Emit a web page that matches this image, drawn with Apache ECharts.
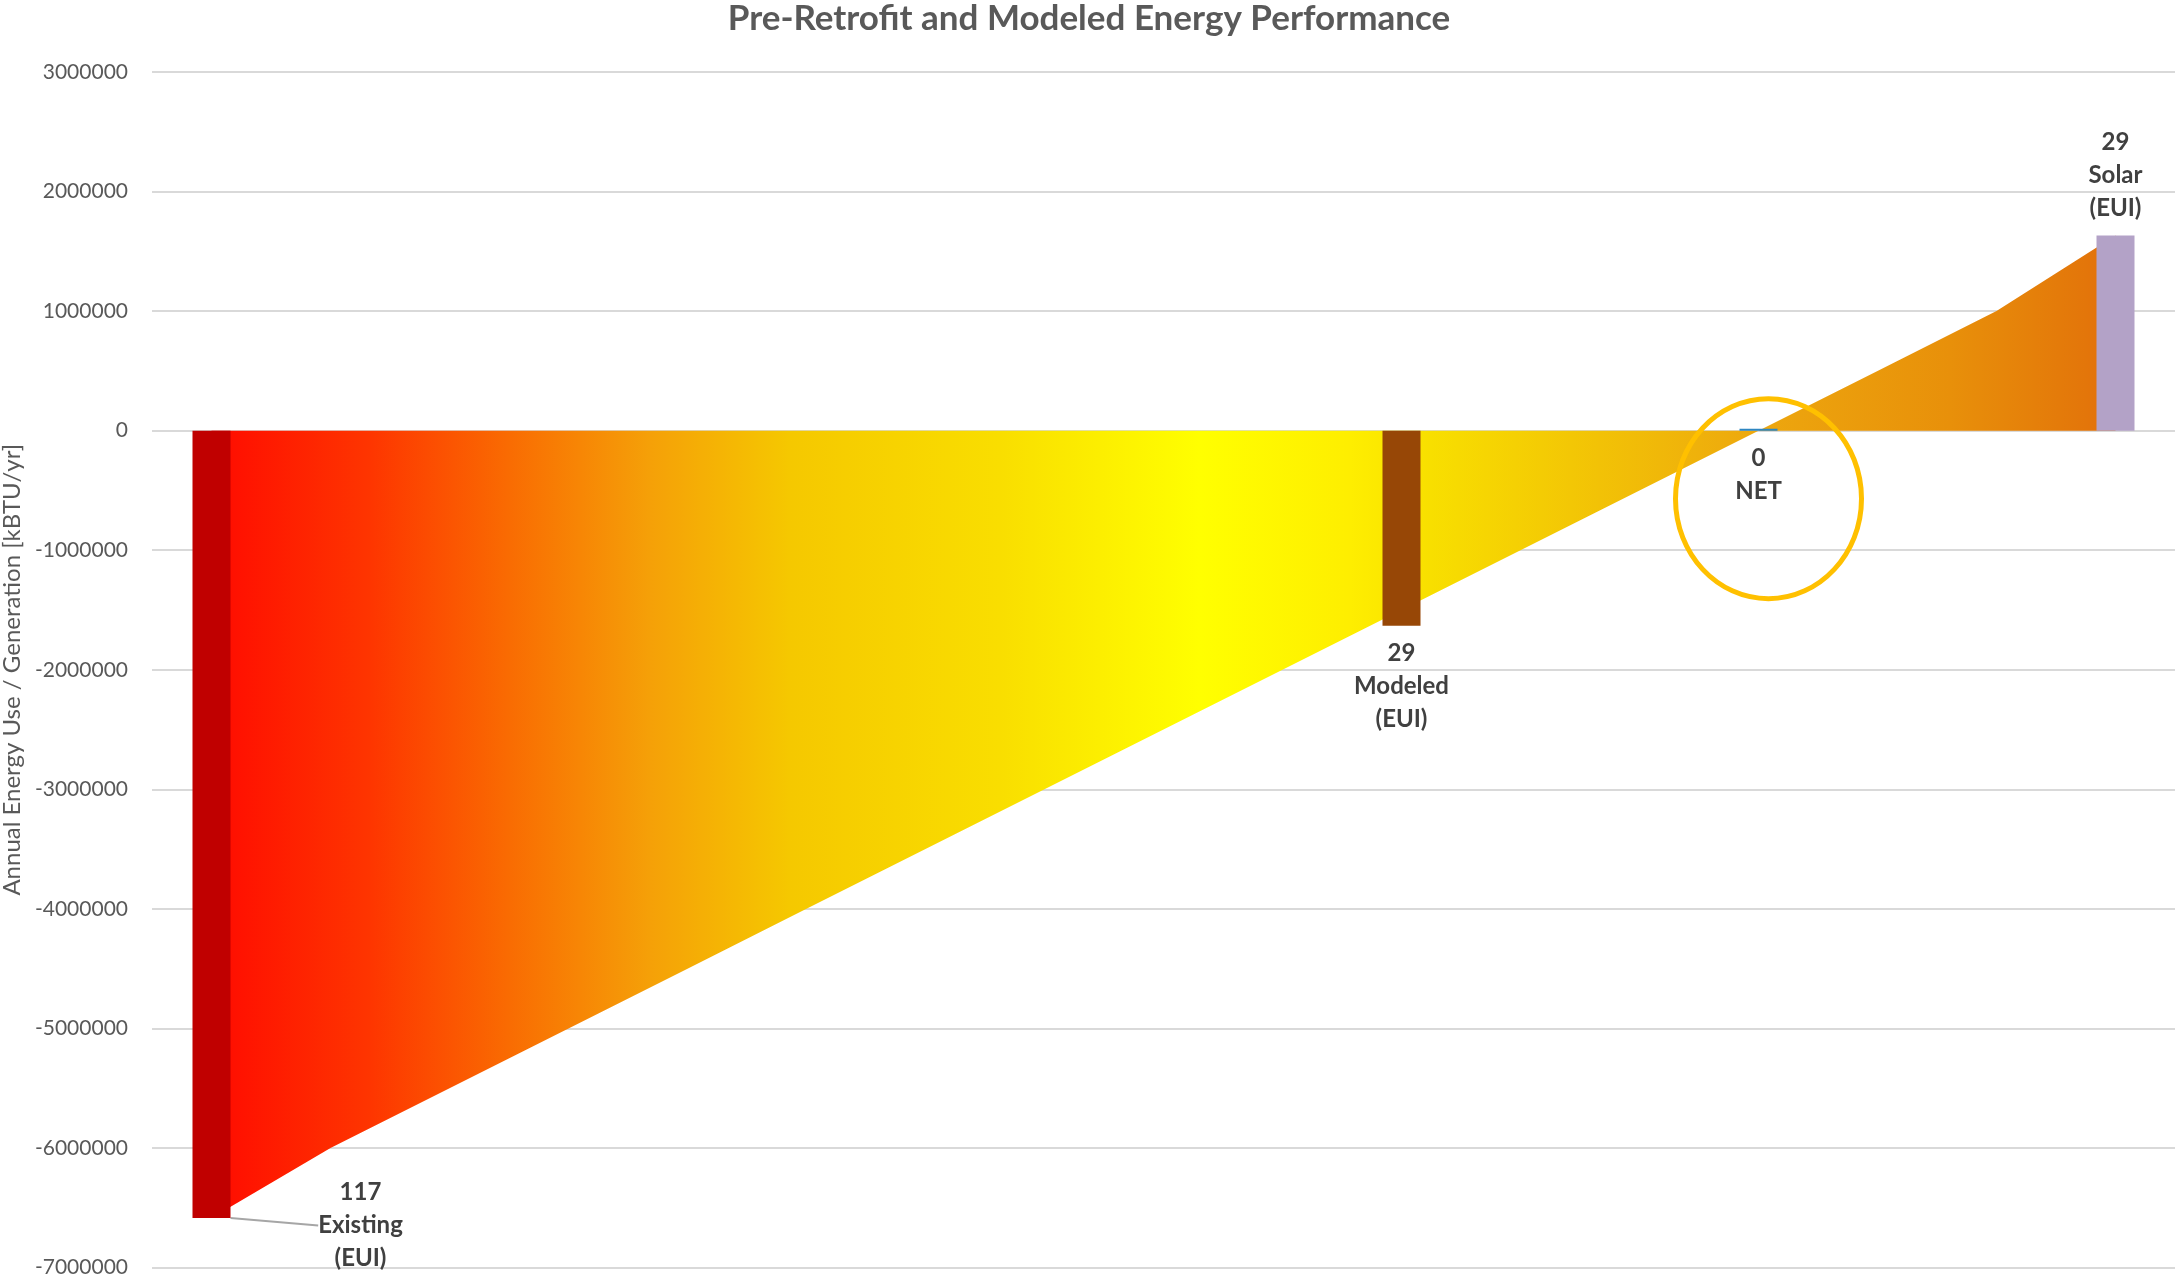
<!DOCTYPE html>
<html>
<head>
<meta charset="utf-8">
<script src="https://cdn.jsdelivr.net/npm/echarts@6/dist/echarts.min.js"></script>
<style>
  html, body { margin: 0; padding: 0; background: #ffffff; }
  #chart { width: 2178px; height: 1277px; }
</style>
</head>
<body>
<div id="chart"></div>
<script>
// Category slots along the x axis (bars sit in slots 0, 10, 13 and 16)
const categories = ['Existing', 's1', 's2', 's3', 's4', 's5', 's6', 's7', 's8', 's9',
  'Modeled', 's11', 's12', 'NET', 's14', 's15', 'Solar'];

// Transition band: annual energy use / generation path [kBTU/yr]
const pathValues = [-6585000, -6000000, -5500000, -5000000, -4500000, -4000000,
  -3500000, -3000000, -2500000, -2000000, -1500000, -1000000, -500000, 0,
  500000, 1000000, 1632000];

// Bars: annual energy [kBTU/yr]
const barSlots = [0, 10, 13, 16];
const barValues = [-6585000, -1632000, 0, 1632000];
const barNames = ['Existing', 'Modeled', 'NET', 'Solar'];
const barEUI = [117, 29, 0, 29];
const barColors = ['#C00000', '#974706', '#2E86C1', '#B3A2C7'];

// Y axis range and ticks
const yMin = -7000000, yMax = 3000000, yStep = 1000000;

const FONT = 'Lato, "Open Sans", sans-serif';

const barData = categories.map(() => '-');
barSlots.forEach((slot, k) => {
  const item = {
    value: barValues[k],
    itemStyle: { color: barColors[k] },
    label: { position: barValues[k] > 0 ? 'top' : 'bottom' }
  };
  if (k === 0) item.labelLine = { show: true };
  barData[slot] = item;
});

const chart = echarts.init(document.getElementById('chart'), null, { renderer: 'canvas' });

const option = {
  backgroundColor: '#ffffff',
  animation: false,
  title: {
    text: 'Pre-Retrofit and Modeled Energy Performance',
    left: 'center',
    top: -4,
    textStyle: { fontFamily: FONT, fontWeight: 'bold', fontSize: 35, color: '#595959' }
  },
  grid: { left: 152, right: 3, top: 72, bottom: 9.5, containLabel: false, outerBoundsMode: 'none' },
  xAxis: {
    type: 'category',
    data: categories,
    boundaryGap: true,
    axisLine: { show: false },
    axisTick: { show: false },
    axisLabel: { show: false },
    splitLine: { show: false }
  },
  yAxis: {
    type: 'value',
    min: yMin,
    max: yMax,
    interval: yStep,
    name: 'Annual Energy Use / Generation [kBTU/yr]',
    nameLocation: 'middle',
    nameGap: 124,
    nameRotate: 90,
    nameTextStyle: { fontFamily: FONT, fontSize: 24, color: '#595959' },
    axisLine: { show: false },
    axisTick: { show: false },
    axisLabel: {
      fontFamily: FONT, fontSize: 21, color: '#595959', margin: 24,
      formatter: (v) => String(v)
    },
    splitLine: { lineStyle: { color: '#D9D9D9', width: 2 } }
  },
  series: [
    {
      type: 'line',
      data: pathValues,
      showSymbol: false,
      symbol: 'none',
      lineStyle: { width: 0 },
      z: 1,
      areaStyle: {
        opacity: 1,
        color: new echarts.graphic.LinearGradient(0, 0, 1, 0, [
          { offset: 0.0, color: '#FF0000' },
          { offset: 0.01, color: '#FF1000' },
          { offset: 0.083, color: '#FE3500' },
          { offset: 0.157, color: '#F96C02' },
          { offset: 0.23, color: '#F5A008' },
          { offset: 0.304, color: '#F5C800' },
          { offset: 0.414, color: '#F9DE00' },
          { offset: 0.519, color: '#FFFF00' },
          { offset: 0.598, color: '#FEEE00' },
          { offset: 0.64, color: '#F8DF00' },
          { offset: 0.729, color: '#F2C206' },
          { offset: 0.813, color: '#EDA70E' },
          { offset: 0.913, color: '#E8900A' },
          { offset: 1.0, color: '#E2700A' }
        ])
      }
    },
    {
      type: 'bar',
      data: barData,
      barWidth: 38,
      barMinHeight: 2,
      z: 3,
      label: {
        show: true,
        distance: 11,
        fontFamily: FONT,
        fontWeight: 'bold',
        fontSize: 24,
        lineHeight: 33,
        color: '#404040',
        align: 'center',
        formatter: (p) => {
          const k = barSlots.indexOf(p.dataIndex);
          const lines = [String(barEUI[k]), barNames[k]];
          if (barNames[k] !== 'NET') lines.push('(EUI)');
          return lines.join('\n');
        }
      },
      labelLine: {
        show: false,
        lineStyle: { color: '#A6A6A6', width: 2 }
      },
      labelLayout: (p) => {
        if (p.dataIndex === barSlots[0]) return { dx: 149, dy: -53 };
        return {};
      }
    }
  ]
};

chart.setOption(option);

// Yellow ring highlighting the net-zero point
const netPx = chart.convertToPixel({ gridIndex: 0 }, [barSlots[2], barValues[2]]);
chart.setOption({
  graphic: [{
    type: 'ellipse',
    shape: { cx: netPx[0] + 10, cy: netPx[1] + 68, rx: 93, ry: 100 },
    style: { fill: 'none', stroke: '#FFC000', lineWidth: 5 },
    z: 10
  }]
});
</script>
</body>
</html>
